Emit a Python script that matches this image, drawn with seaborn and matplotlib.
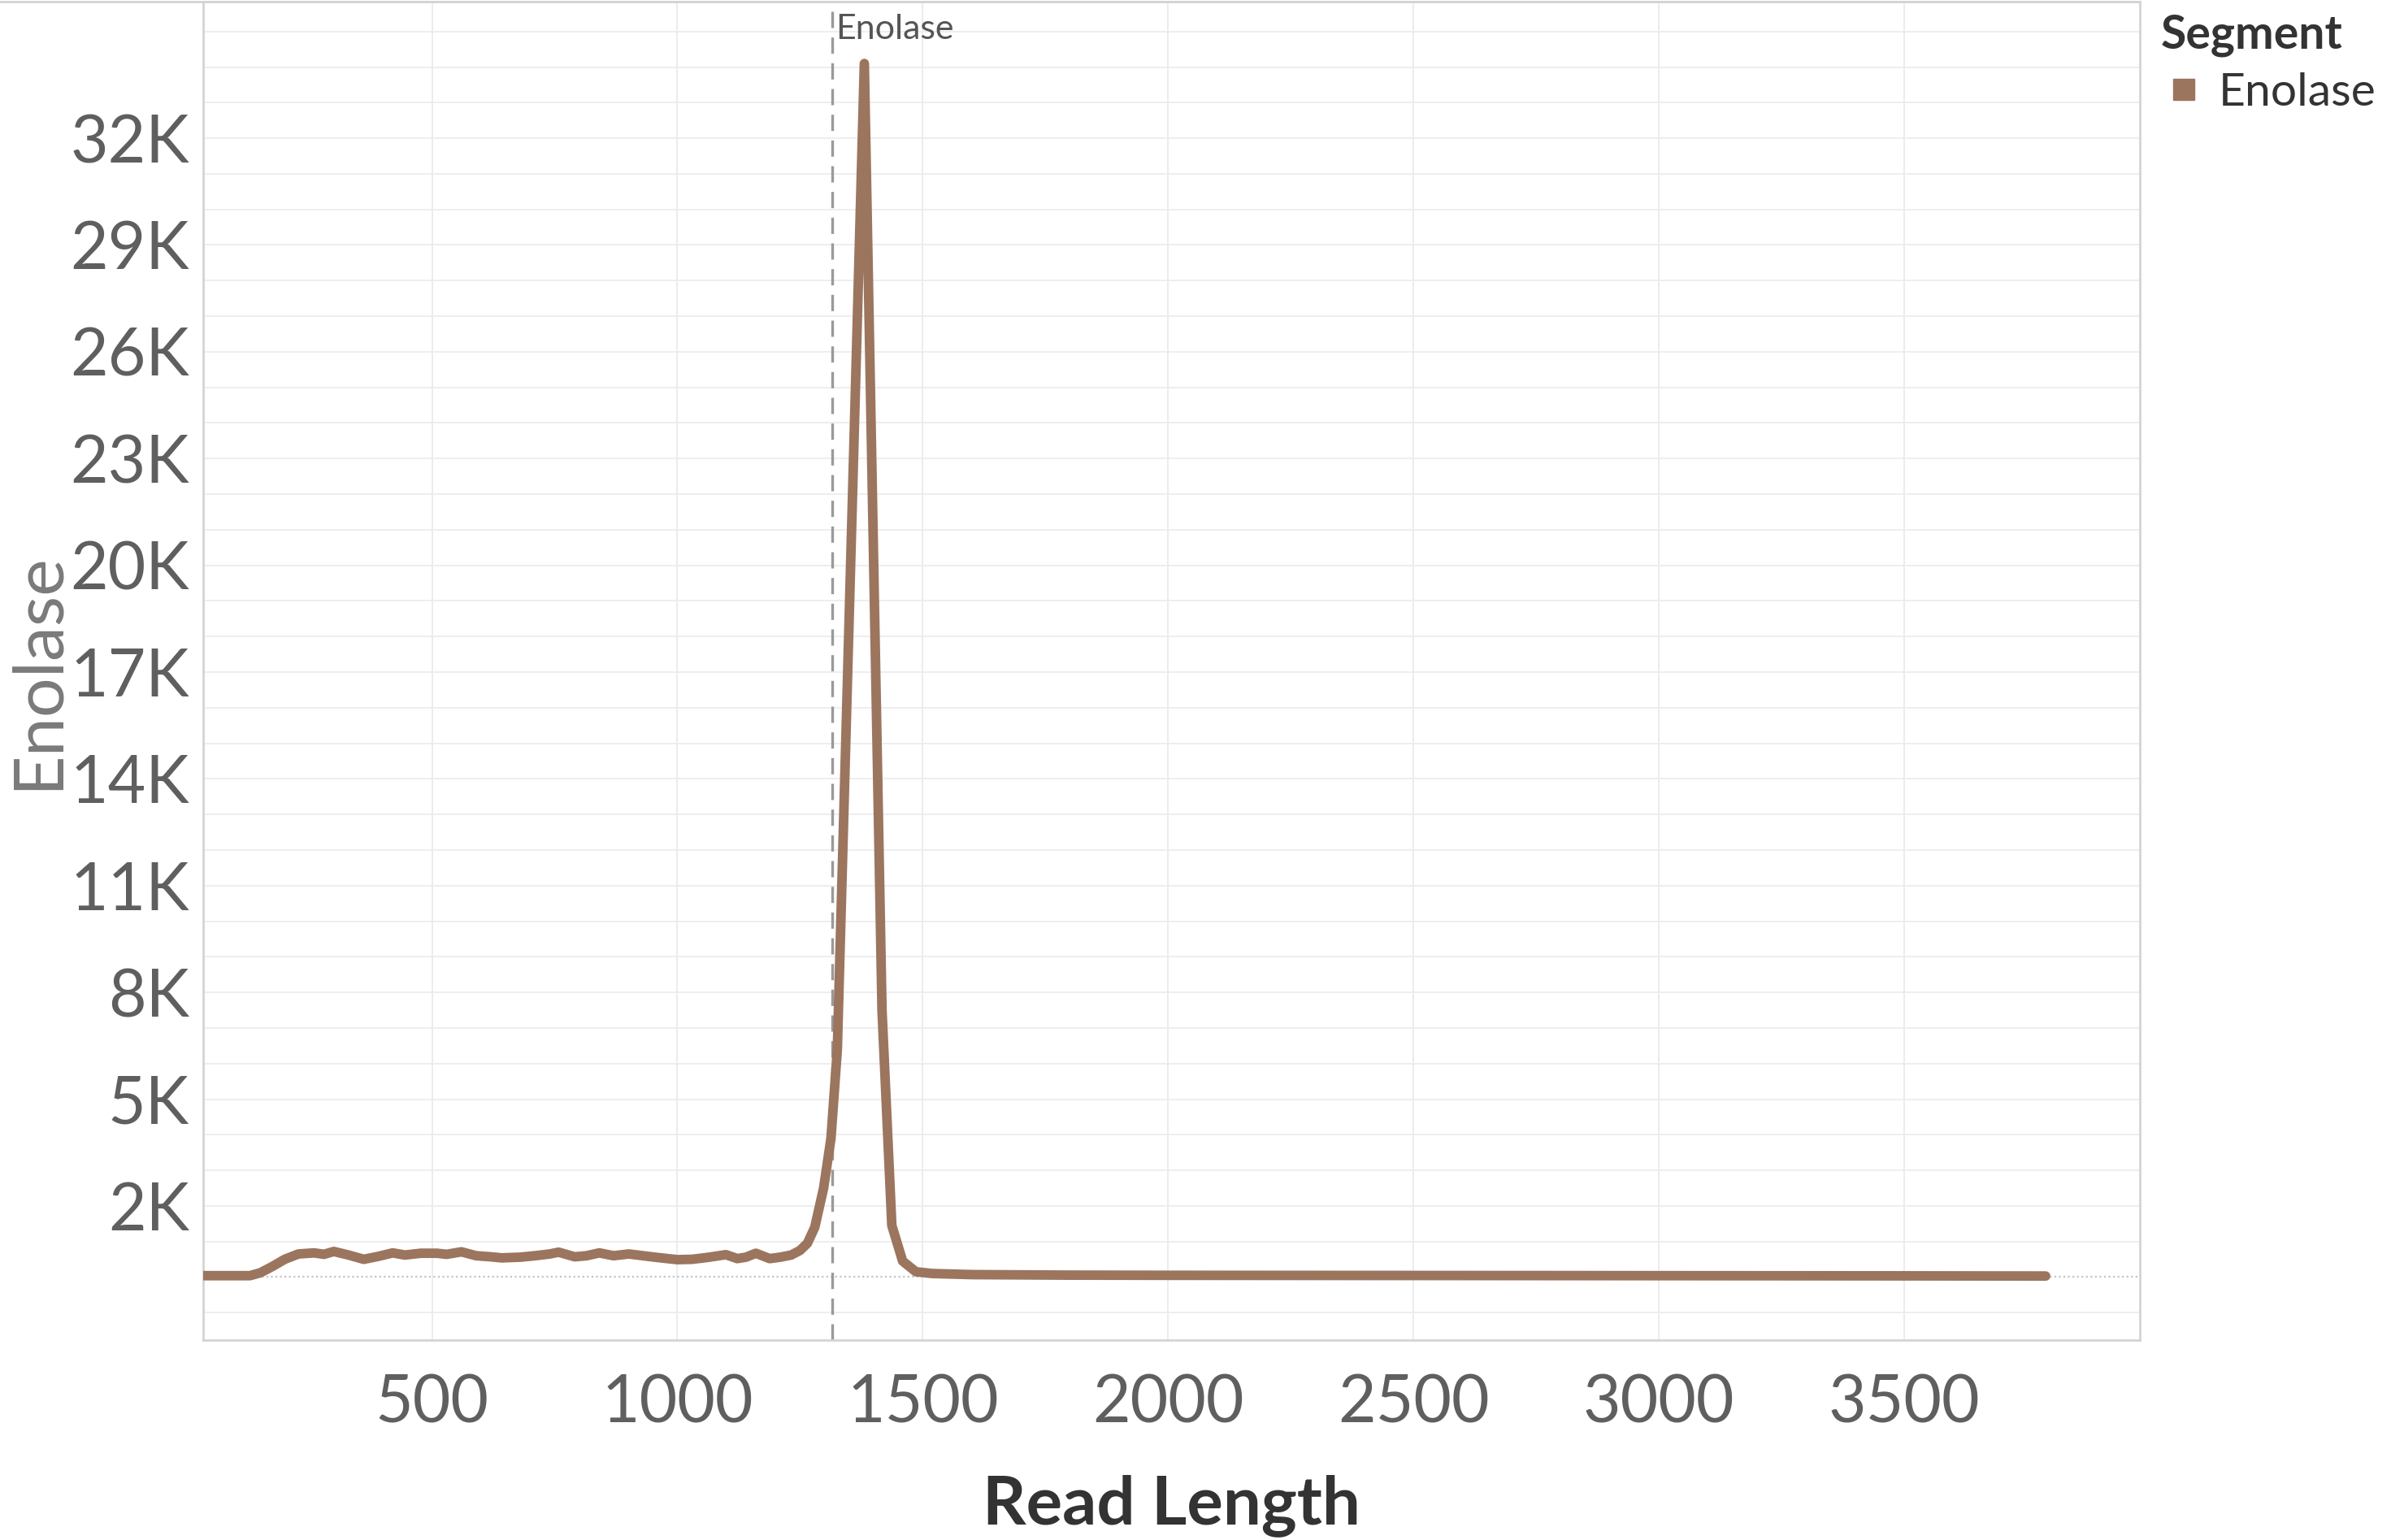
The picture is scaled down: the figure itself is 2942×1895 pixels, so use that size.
import numpy as np
import pandas as pd
import matplotlib
matplotlib.use("Agg")
import matplotlib.pyplot as plt
from matplotlib.lines import Line2D
from matplotlib.ticker import FuncFormatter, FixedLocator
import seaborn as sns

# ---- data ----
read_length = [35, 60, 90, 129, 150, 175, 200, 228, 260, 280, 300, 330, 361, 390, 420,
               445, 477, 510, 530, 560, 590, 620, 642, 680, 710, 740, 758, 791, 815, 841,
               870, 901, 930, 960, 1000, 1030, 1060, 1099, 1122, 1140, 1160, 1188, 1210,
               1232, 1250, 1265, 1280, 1298, 1313, 1326, 1381, 1417, 1437, 1459, 1486,
               1520, 1600, 1800, 2000, 2500, 3000, 3500, 3788]
enolase_counts = [40, 40, 40, 40, 120, 300, 500, 650, 680, 640, 720, 620, 500, 580, 680,
                  620, 670, 670, 640, 710, 600, 570, 540, 560, 600, 650, 700, 570, 600, 680,
                  600, 650, 600, 550, 490, 500, 550, 630, 520, 560, 670, 520, 560,
                  620, 750, 950, 1400, 2500, 3900, 6400, 34100, 7500, 1450, 450, 150,
                  100, 70, 55, 50, 45, 40, 35, 30]
segment = "Enolase"
reference_x = 1315
x_ticks = [500, 1000, 1500, 2000, 2500, 3000, 3500]
y_label_ticks = [2000, 5000, 8000, 11000, 14000, 17000, 20000, 23000, 26000, 29000, 32000]

df = pd.DataFrame({"Read Length": read_length, "Enolase": enolase_counts,
                   "Segment": [segment] * len(read_length)})

LINE_COLOR = "#9C755F"
FONT = ["Lato", "DejaVu Sans"]

sns.set_theme(style="white")
plt.rcParams["font.family"] = FONT

W, H, DPI = 2942, 1895, 100
fig = plt.figure(figsize=(W / DPI, H / DPI), dpi=DPI)
ax = fig.add_axes([249.5 / W, 1 - 1649 / H, (2633 - 249.5) / W, 1649 / H - 0.0008])

# grid lines
for v in range(-1000, 36000, 1000):
    if v == 0:
        continue
    ax.axhline(v, color="#eeeeee", lw=1.4, zorder=0)
for v in x_ticks:
    ax.axvline(v, color="#ececec", lw=1.4, zorder=0)
ax.axhline(0, color="#c4c4c4", lw=1.6, ls=(0, (1, 1.5)), zorder=1)

sns.lineplot(data=df, x="Read Length", y="Enolase", hue="Segment",
             palette=[LINE_COLOR], linewidth=8.5, legend=False, ax=ax,
             solid_capstyle="round", solid_joinstyle="round", zorder=3)

ax.axvline(reference_x, color="#9a9a9a", lw=2.4, ls=(0, (6, 3.5)), zorder=2)
ax.text(reference_x + 8, 35500, "Enolase", ha="left", va="top", fontsize=31,
        color="#555555", family=FONT)

ax.set_xlim(33, 3980)
ax.set_ylim(-1770, 35850)

ax.xaxis.set_major_locator(FixedLocator(x_ticks))
ax.yaxis.set_major_locator(FixedLocator(y_label_ticks))
ax.yaxis.set_major_formatter(FuncFormatter(lambda v, p: f"{int(round(v / 1000))}K"))
ax.tick_params(axis="both", length=0, labelsize=58, colors="#5f5f5f")
ax.tick_params(axis="y", pad=12)
ax.tick_params(axis="x", pad=30)
ax.grid(False)

for s in ax.spines.values():
    s.set_color("#d4d4d4")
    s.set_linewidth(2)

ax.set_xlabel("Read Length", fontsize=60, fontweight="bold", color="#333333", labelpad=36)
ax.set_ylabel("Enolase", fontsize=62, color="#7a7a7a", labelpad=0)

# top pane border across the whole chart width
fig.add_artist(Line2D([0, 2633 / W], [1 - 1.5 / H, 1 - 1.5 / H], transform=fig.transFigure,
                      color="#d4d4d4", lw=2))

handles = [Line2D([], [], marker="s", linestyle="", color=LINE_COLOR, markersize=19)]
leg = fig.legend(handles, [segment], title="Segment", loc="upper left",
                 bbox_to_anchor=(2659 / W, 1 - 16 / H), frameon=False,
                 fontsize=41, title_fontproperties={"size": 41, "weight": "bold", "family": FONT},
                 borderpad=0, borderaxespad=0, handletextpad=0.25, handlelength=1.0,
                 labelspacing=0.3)
leg._legend_box.align = "left"
leg._legend_box.sep = 14
leg.get_title().set_color("#333333")
for t in leg.get_texts():
    t.set_color("#333333")

fig.savefig("out.png", dpi=DPI)
